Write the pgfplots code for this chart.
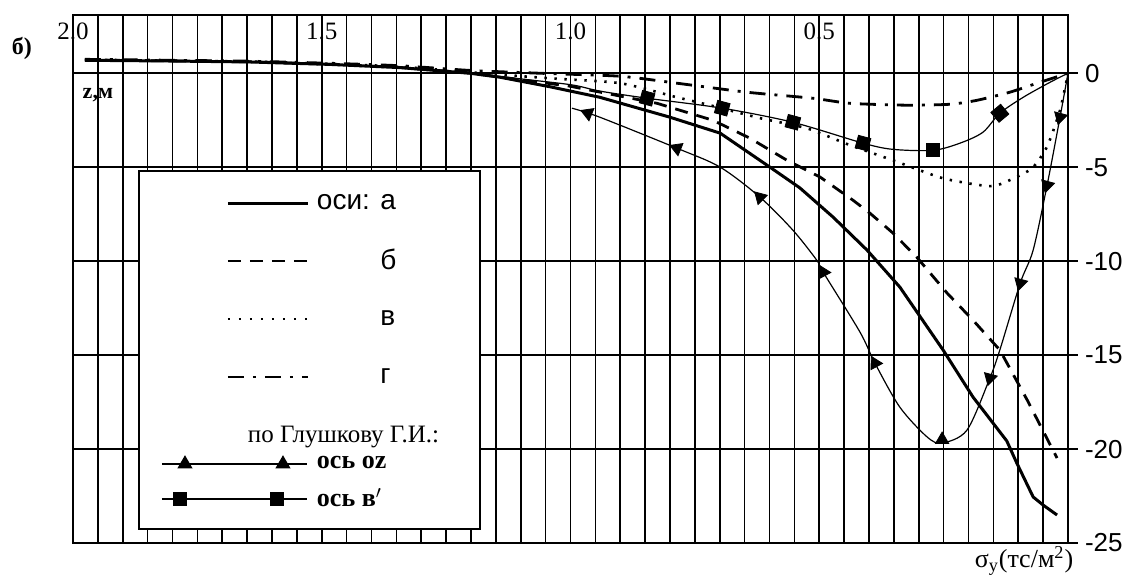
\documentclass[border=0pt]{standalone}
\usepackage{pgfplots}
\pgfplotsset{compat=1.18}
\usepackage{fontspec}
\setmainfont{Liberation Serif}
\setsansfont{Liberation Sans}
\begin{document}
\begin{tikzpicture}
\useasboundingbox (-36.5pt,-15.5pt) rectangle (529pt,271.5pt);
\begin{axis}[
  at={(0pt,0pt)}, anchor=south west, scale only axis,
  width=497.5pt, height=264pt,
  xmin=0, xmax=2, x dir=reverse, ymin=-25, ymax=3.1,
  clip=false,
  axis line style={line width=0.9pt, black},
  xtick={0,0.05,...,2.01}, xticklabels={}, xtick style={draw=none}, xmajorgrids=true,
  ytick={-25,-20,-15,-10,-5,0}, yticklabels={-25,-20,-15,-10,-5,0}, ymajorgrids=true,
  ytick pos=right, yticklabel pos=right, tick align=outside, major tick length=5pt,
  ytick style={line width=0.9pt, black},
  major grid style={line width=0.85pt, black},
  yticklabel style={font=\sffamily\fontsize{13}{13}\selectfont, anchor=west},
  legend style={at={(0.08744,0.69886)}, anchor=north west, draw=none, fill=none,
    inner sep=0pt, outer sep=0pt, row sep=0pt, column sep=2.5pt, nodes={inner sep=0pt}},
  legend cell align=left,
]
% legend box
\draw[line width=1pt, fill=white] (axis description cs:0.06633,0.02652) rectangle (axis description cs:0.40905,0.70455);

% curve a (solid)
\addplot[black, line width=1.5pt, forget plot] coordinates {
(1.976,0.69) (1.80,0.65) (1.644,0.60) (1.483,0.47) (1.343,0.30) (1.202,0.00)
(1.142,-0.21) (1.041,-0.72) (0.941,-1.28) (0.800,-2.34) (0.699,-3.19) (0.599,-5.0)
(0.539,-6.1) (0.472,-7.66) (0.404,-9.41) (0.338,-11.38) (0.251,-14.73) (0.191,-17.23)
(0.123,-19.57) (0.103,-20.74) (0.070,-22.55) (0.050,-22.98) (0.022,-23.51)};
% curve b (dashed)
\addplot[black, line width=1.4pt, dash pattern=on 6.5pt off 4.5pt, forget plot] coordinates {
(1.976,0.70) (1.80,0.66) (1.644,0.61) (1.483,0.48) (1.343,0.31) (1.202,0.01)
(1.001,-0.69) (0.826,-1.6) (0.714,-2.5) (0.639,-3.46) (0.565,-4.63) (0.498,-5.53)
(0.432,-6.76) (0.398,-7.45) (0.352,-8.5) (0.304,-9.79) (0.243,-11.7) (0.191,-13.14)
(0.137,-14.73) (0.082,-17.39) (0.022,-20.48)};
% curve v (dotted)
\addplot[black, line width=1.3pt, dash pattern=on 1.2pt off 3.8pt, smooth, tension=0.4, forget plot] coordinates {
(1.976,0.72) (1.80,0.67) (1.644,0.62) (1.483,0.50) (1.343,0.35) (1.202,0.05)
(1.041,-0.27) (0.900,-0.53) (0.786,-1.28) (0.720,-1.70) (0.619,-2.39) (0.525,-2.93)
(0.438,-3.83) (0.352,-4.63) (0.251,-5.59) (0.157,-6.01) (0.117,-5.69) (0.072,-5.05)
(0.042,-3.9) (0.016,-1.97) (0,0)};
% curve g (dash-dot)
\addplot[black, line width=1.4pt, dash pattern=on 8pt off 4.5pt on 1.5pt off 4.5pt, smooth, tension=0.4, forget plot] coordinates {
(1.976,0.74) (1.80,0.69) (1.644,0.64) (1.483,0.53) (1.343,0.40) (1.202,0.15)
(1.061,0.0) (0.900,-0.16) (0.786,-0.53) (0.645,-1.01) (0.513,-1.33) (0.438,-1.60)
(0.324,-1.70) (0.237,-1.65) (0.183,-1.44) (0.117,-1.01) (0.062,-0.53) (0,0)};
% Glushkov, axis oz (triangles)
\addplot[black, line width=0.6pt, smooth, tension=0.5, forget plot] coordinates {
(0.997,-1.86) (0.941,-2.34) (0.786,-3.99) (0.699,-5.0) (0.619,-6.60) (0.553,-8.35)
(0.505,-9.95) (0.492,-10.59) (0.418,-13.78) (0.388,-15.43) (0.338,-17.77) (0.283,-19.36)
(0.253,-19.68) (0.203,-18.99) (0.157,-16.22) (0.137,-14.73) (0.096,-11.17) (0.070,-9.41)
(0.042,-5.96) (0.016,-2.34) (0,0)};
\addplot[only marks, mark=triangle*, mark size=3.8pt, mark options={solid, fill=black, rotate=68}, forget plot] coordinates {(0.965,-2.13) (0.786,-3.99)};
\addplot[only marks, mark=triangle*, mark size=3.8pt, mark options={solid, fill=black, rotate=45}, forget plot] coordinates {(0.619,-6.60)};
\addplot[only marks, mark=triangle*, mark size=3.8pt, mark options={solid, fill=black, rotate=28}, forget plot] coordinates {(0.492,-10.59) (0.388,-15.43)};
\addplot[only marks, mark=triangle*, mark size=3.8pt, mark options={solid, fill=black, rotate=0}, forget plot] coordinates {(0.253,-19.50)};
\addplot[only marks, mark=triangle*, mark size=3.8pt, mark options={solid, fill=black, rotate=165}, forget plot] coordinates {(0.157,-16.22) (0.096,-11.17) (0.042,-5.96) (0.016,-2.34)};
% Glushkov, axis v' (squares)
\addplot[black, line width=0.6pt, smooth, tension=0.5, forget plot] coordinates {
(1.202,0.02) (1.10,-0.30) (0.997,-0.62) (0.941,-0.95) (0.846,-1.33) (0.695,-1.86)
(0.553,-2.61) (0.412,-3.72) (0.352,-4.05) (0.271,-4.10) (0.217,-3.72) (0.171,-3.14)
(0.137,-2.13) (0.090,-1.28) (0.036,-0.48) (0,0)};
\addplot[only marks, mark=square*, mark size=3.2pt, mark options={solid, fill=black, rotate=-15}, forget plot] coordinates {(0.846,-1.33) (0.695,-1.86) (0.553,-2.61) (0.412,-3.72)};
\addplot[only marks, mark=square*, mark size=3.2pt, mark options={solid, fill=black, rotate=0}, forget plot] coordinates {(0.271,-4.10)};
\addplot[only marks, mark=square*, mark size=3.2pt, mark options={solid, fill=black, rotate=40}, forget plot] coordinates {(0.137,-2.13)};

% legend
\addlegendimage{black, line width=1.5pt, legend image code/.code={\draw (-42pt,0pt) -- (-2pt,0pt); \path[draw=none,fill=none] (-76pt,-14.5pt) rectangle (0pt,14.5pt);}}
\addlegendentry{\sffamily\fontsize{14}{14}\selectfont оси: а}
\addlegendimage{black, line width=1.2pt, dash pattern=on 6.5pt off 4.5pt, legend image code/.code={\draw (-42pt,0pt) -- (-2pt,0pt); \path[draw=none,fill=none] (-76pt,-14.5pt) rectangle (0pt,14.5pt);}}
\addlegendentry{\sffamily\fontsize{14}{14}\selectfont \phantom{оси: }б}
\addlegendimage{black, line width=1.1pt, dash pattern=on 1pt off 4.5pt, legend image code/.code={\draw (-42pt,0pt) -- (-2pt,0pt); \path[draw=none,fill=none] (-76pt,-14.5pt) rectangle (0pt,14.5pt);}}
\addlegendentry{\sffamily\fontsize{14}{14}\selectfont \phantom{оси: }в}
\addlegendimage{black, line width=1.4pt, dash pattern=on 8pt off 4.5pt on 1.5pt off 4.5pt, legend image code/.code={\draw (-42pt,0pt) -- (-2pt,0pt); \path[draw=none,fill=none] (-76pt,-14.5pt) rectangle (0pt,14.5pt);}}
\addlegendentry{\sffamily\fontsize{14}{14}\selectfont \phantom{оси: }г}
\addlegendimage{legend image code/.code={\path[draw=none,fill=none] (-76pt,-7pt) rectangle (0pt,15pt);}}
\addlegendentry{\fontsize{12.5}{12.5}\selectfont\hspace*{-34.5pt}по Глушкову Г.И.:}
\addlegendimage{black, line width=0.6pt, mark=triangle*, mark size=3.8pt, mark options={solid, fill=black}, legend image code/.code={\draw[mark indices={2,3}] plot coordinates {(-75pt,0pt) (-63.5pt,0pt) (-14.5pt,0pt) (-2.5pt,0pt)}; \path[draw=none,fill=none] (-76pt,-8.75pt) rectangle (0pt,7pt);}}
\addlegendentry{\bfseries\fontsize{13}{13}\selectfont ось oz}
\addlegendimage{black, line width=0.6pt, mark=square*, mark size=3.2pt, mark options={solid, fill=black}, legend image code/.code={\draw[mark indices={2,3}] plot coordinates {(-75pt,0pt) (-66pt,0pt) (-17.5pt,0pt) (-2.5pt,0pt)}; \path[draw=none,fill=none] (-76pt,-8pt) rectangle (0pt,8.75pt);}}
\addlegendentry{\bfseries\fontsize{13}{13}\selectfont ось в$'$}

% texts
\node[font=\bfseries\fontsize{12}{12}\selectfont] at (axis cs:2.1025,1.33) {б)};
\node[font=\bfseries\fontsize{11}{11}\selectfont] at (axis cs:1.950,-1.17) {z,м};
\node[font=\fontsize{12.5}{12.5}\selectfont] at (axis cs:2.0,2.23) {2.0};
\node[font=\fontsize{12.5}{12.5}\selectfont] at (axis cs:1.5,2.23) {1.5};
\node[font=\fontsize{12.5}{12.5}\selectfont] at (axis cs:1.0,2.23) {1.0};
\node[font=\fontsize{12.5}{12.5}\selectfont] at (axis cs:0.5,2.23) {0.5};
\node[font=\fontsize{13}{13}\selectfont] at (axis cs:0.0884,-25.95) {σ\textsubscript{y}(тс/м\textsuperscript{2})};
\end{axis}
\end{tikzpicture}
\end{document}
